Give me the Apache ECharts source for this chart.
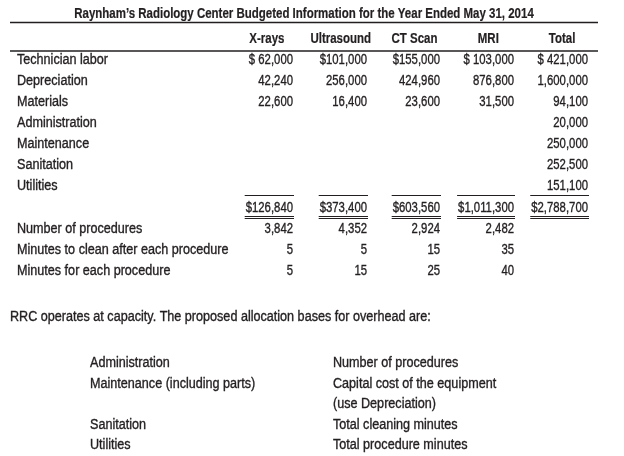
<!DOCTYPE html>
<html>
<head>
<meta charset="utf-8">
<script src="https://cdn.jsdelivr.net/npm/echarts@6/dist/echarts.min.js"></script>
<style>html,body{margin:0;padding:0;background:#fff;}#c{width:624px;height:456px;}</style>
</head>
<body>
<div id="c"></div>
<script>
// ---- data ----
const titleText = 'Raynham\u2019s Radiology Center Budgeted Information for the Year Ended May 31, 2014';
const columns = ['X-rays', 'Ultrasound', 'CT Scan', 'MRI', 'Total'];
const rowLabels = ['Technician labor', 'Depreciation', 'Materials', 'Administration', 'Maintenance',
  'Sanitation', 'Utilities', '', 'Number of procedures', 'Minutes to clean after each procedure',
  'Minutes for each procedure'];
const xrays      = ['$ 62,000', '42,240', '22,600', '', '', '', '', '$126,840', '3,842', '5', '5'];
const ultrasound = ['$101,000', '256,000', '16,400', '', '', '', '', '$373,400', '4,352', '5', '15'];
const ctScan     = ['$155,000', '424,960', '23,600', '', '', '', '', '$603,560', '2,924', '15', '25'];
const mri        = ['$ 103,000', '876,800', '31,500', '', '', '', '', '$1,011,300', '2,482', '35', '40'];
const total      = ['$ 421,000', '1,600,000', '94,100', '20,000', '250,000', '252,500', '151,100', '$2,788,700', '', '', ''];
const totalRowIndex = 7;
const noteText = 'RRC operates at capacity. The proposed allocation bases for overhead are:';
const overheadItems   = ['Administration', 'Maintenance (including parts)', '', 'Sanitation', 'Utilities'];
const allocationBases = ['Number of procedures', 'Capital cost of the equipment', '(use Depreciation)',
  'Total cleaning minutes', 'Total procedure minutes'];

// ---- build ----
const FONT = "'Liberation Sans', Arial, sans-serif";
const FS = 14;
const INK = '#231f20';
const SX_TEXT = 0.9;   // condensed look for words
const SX_NUM = 0.81;   // condensed look for figures
const SX_BOLD = 0.82;  // condensed bold
const colValues = [xrays, ultrasound, ctScan, mri, total];
const cells = [];
colValues.forEach((arr, ci) => arr.forEach((t, ri) => { if (t !== '') cells.push([ci, ri, t]); }));
const labelCells = rowLabels.map((t, ri) => [0, ri, t]).filter(d => d[2] !== '');
const headerCells = columns.map((t, ci) => [ci, 0, t]);
const listCells = [];
overheadItems.forEach((t, ri) => { if (t) listCells.push([0, ri, t]); });
allocationBases.forEach((t, ri) => { if (t) listCells.push([1, ri, t]); });

const mctx = document.createElement('canvas').getContext('2d');
mctx.font = FS + 'px ' + FONT;
function textW(t) { return mctx.measureText(t).width; }

function txt(x, y, t, align, sx, bold) {
  return {
    type: 'text', x: x, y: y, scaleX: sx,
    style: { x: 0, y: 0, text: t, align: align, verticalAlign: 'middle',
             font: (bold ? 'bold ' : '') + FS + 'px ' + FONT, fill: INK,
             stroke: INK, lineWidth: bold ? 0.2 : 0.35 }
  };
}

const chart = echarts.init(document.getElementById('c'), null, { renderer: 'canvas' });
chart.setOption({
  animation: false,
  backgroundColor: '#fff',
  graphic: [
    txt(304, 14, titleText, 'center', SX_BOLD, true),
    { type: 'line', shape: { x1: 10, y1: 22.5, x2: 598, y2: 22.5 }, style: { stroke: INK, lineWidth: 1.5 } },
    { type: 'line', shape: { x1: 10, y1: 51, x2: 598, y2: 51 }, style: { stroke: INK, lineWidth: 1.5 } },
    txt(10, 317, noteText, 'left', SX_TEXT, false)
  ],
  grid: [
    { left: 230, width: 369, top: 49.5, height: 232 },
    { left: 90, width: 486, top: 353, height: 102.5 }
  ],
  xAxis: [
    { gridIndex: 0, type: 'category', data: columns, show: false },
    { gridIndex: 1, type: 'category', data: ['item', 'basis'], show: false }
  ],
  yAxis: [
    { gridIndex: 0, type: 'category', data: rowLabels.map((_, i) => 'r' + i), inverse: true, show: false },
    { gridIndex: 1, type: 'category', data: overheadItems.map((_, i) => 'r' + i), inverse: true, show: false }
  ],
  series: [
    { // column headers
      type: 'custom', xAxisIndex: 0, yAxisIndex: 0, clip: false, silent: true,
      data: headerCells,
      renderItem: function (params, api) {
        const c = api.coord([api.value(0), 0]);
        return txt(c[0], params.coordSys.y - 10.5, headerCells[params.dataIndex][2], 'center', SX_BOLD, true);
      }
    },
    { // row labels
      type: 'custom', xAxisIndex: 0, yAxisIndex: 0, clip: false, silent: true,
      data: labelCells,
      renderItem: function (params, api) {
        const c = api.coord([0, api.value(1)]);
        return txt(params.coordSys.x - 213, c[1], labelCells[params.dataIndex][2], 'left', SX_TEXT, false);
      }
    },
    { // figures
      type: 'custom', xAxisIndex: 0, yAxisIndex: 0, clip: false, silent: true,
      data: cells,
      renderItem: function (params, api) {
        const c = api.coord([api.value(0), api.value(1)]);
        const bw = api.size([1, 0])[0];
        const t = cells[params.dataIndex][2];
        const rx = Math.round(c[0] + bw * 0.35);
        const cy = c[1];
        const children = [txt(rx, cy, t, 'right', SX_NUM, false)];
        if (api.value(1) === totalRowIndex) {
          const w = textW(t) * SX_NUM + 2;
          const x1 = rx - w + 1, x2 = rx + 1;
          const ys = [Math.round(cy - 12.5) + 0.5, Math.round(cy + 8.5) + 0.5, Math.round(cy + 10.5) + 0.5];
          ys.forEach(y => children.push({
            type: 'line', shape: { x1: x1, y1: y, x2: x2, y2: y },
            style: { stroke: INK, lineWidth: 1 }
          }));
        }
        return { type: 'group', children: children };
      }
    },
    { // allocation bases list
      type: 'custom', xAxisIndex: 1, yAxisIndex: 1, clip: false, silent: true,
      data: listCells,
      renderItem: function (params, api) {
        const c = api.coord([api.value(0), api.value(1)]);
        const bw = api.size([1, 0])[0];
        return txt(c[0] - bw / 2, c[1], listCells[params.dataIndex][2], 'left', SX_TEXT, false);
      }
    }
  ]
});
</script>
</body>
</html>
